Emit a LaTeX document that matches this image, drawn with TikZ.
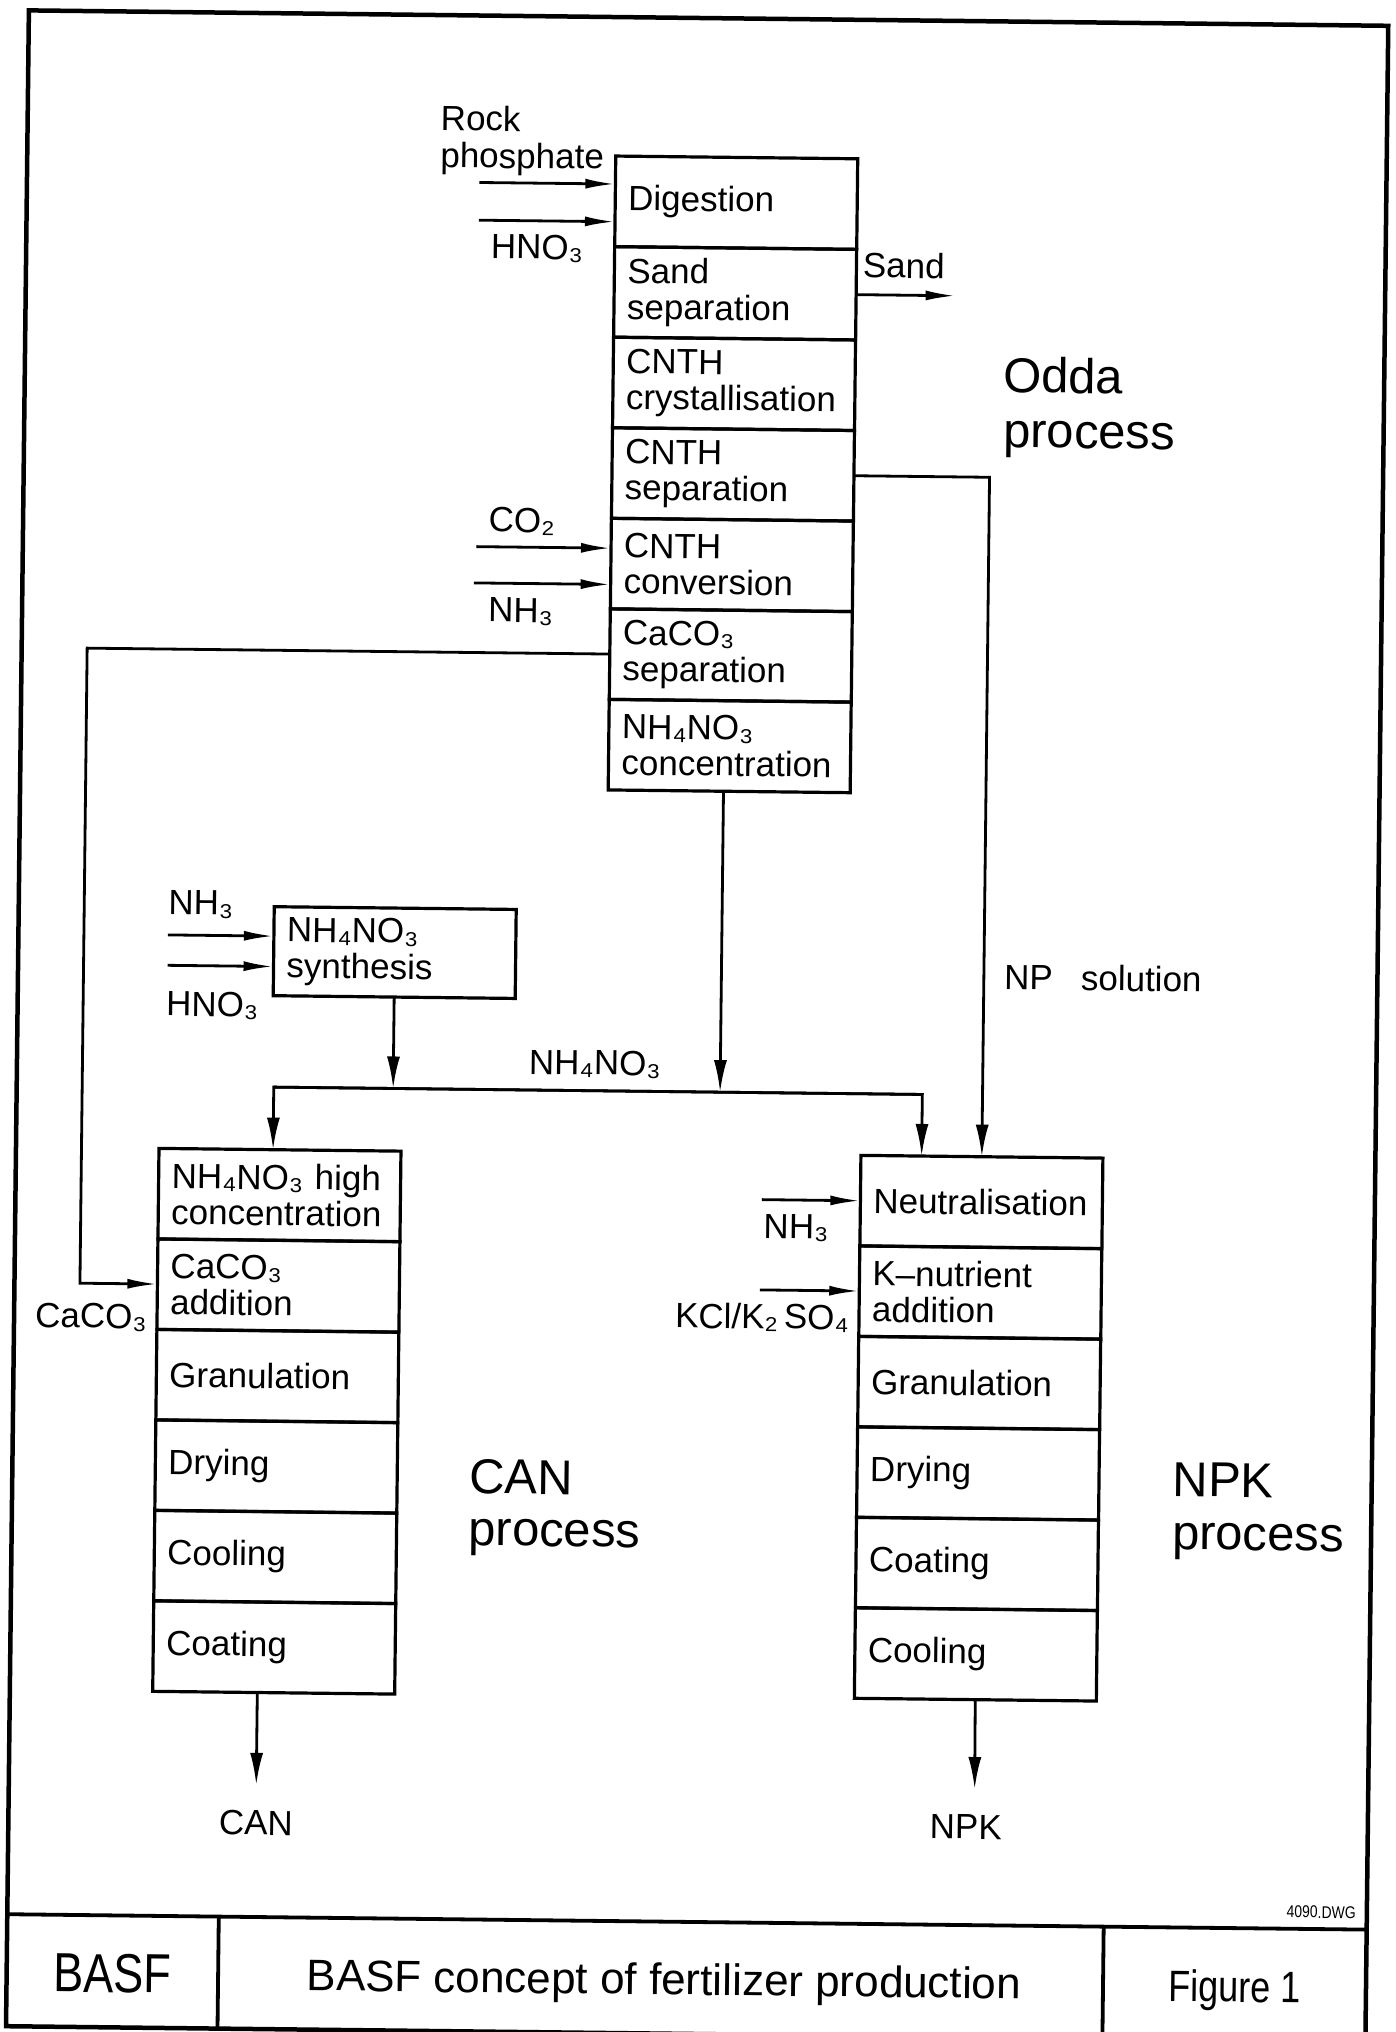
\documentclass[tikz,border=0pt]{standalone}
\usepackage{fontspec}
\setmainfont{Liberation Sans}
\newfontfamily\narrowfont[FakeStretch=0.82]{Liberation Sans}
\usepackage{tikz}
\usetikzlibrary{arrows.meta, positioning}

\begin{document}
\begin{tikzpicture}[x=1pt, y=-1pt,
  cell/.style={draw, line width=3.2pt, outer sep=0pt, minimum width=242pt,
    minimum height=90.6pt, text width=216pt, inner xsep=13pt, inner ysep=4pt,
    align=left, font=\fontsize{35}{36}\selectfont},
  lbl/.style={inner sep=0pt, font=\fontsize{35}{36}\selectfont},
  proclbl/.style={inner sep=0pt, font=\fontsize{49}{54}\selectfont},
  flow/.style={line width=2.8pt},
  flowarrow/.style={flow, -{Latex[length=32pt,width=13pt]}},
  inarrow/.style={flow, -{Latex[length=30pt,width=10pt]}}]

  \useasboundingbox[fill=white] (0,0) rectangle (1396,2032);

  \begin{scope}[rotate around={-0.65:(698,1016)}, transform shape]

  % Frame and title block
  \draw[line width=4.5pt] (17.5,18) rectangle (1377,2034);
  \draw[line width=3.8pt] (17.5,1922) -- (1377,1922);
  \draw[line width=3.8pt] (229,1922) -- (229,2034);
  \draw[line width=3.8pt] (1114,1922) -- (1114,2034);
  \node[inner sep=0pt, anchor=base, font=\narrowfont\fontsize{55}{55}\selectfont] (firm) at (123,1999) {BASF};
  \node[inner sep=0pt, anchor=base, font=\fontsize{44}{44}\selectfont] (title) at (675,1995) {BASF concept of fertilizer production};
  \node[inner sep=0pt, anchor=base, font=\narrowfont\fontsize{44}{44}\selectfont] (fignum) at (1246,1996) {Figure 1};
  \node[inner sep=0pt, anchor=base east, font=\narrowfont\fontsize{17}{17}\selectfont] (dwg) at (1366,1911) {4090.DWG};

  % Odda process
  \node[cell, anchor=north west] (odda1) at (606,157) {Digestion};
  \node[cell, below=0pt of odda1] (odda2) {Sand\\separation};
  \node[cell, below=0pt of odda2] (odda3) {CNTH\\crystallisation};
  \node[cell, below=0pt of odda3] (odda4) {CNTH\\separation};
  \node[cell, below=0pt of odda4] (odda5) {CNTH\\conversion};
  \node[cell, below=0pt of odda5] (odda6) {CaCO₃\\separation};
  \node[cell, below=0pt of odda6] (odda7) {NH₄NO₃\\concentration};
  \node[proclbl, anchor=base west] (oddalbl) at (996,389) {Odda};
  \node[proclbl, anchor=base west] (oddalbl2) at (996.6,444) {process};

  % Ammonium nitrate synthesis
  \node[cell, anchor=north west, minimum height=89pt] (synth) at (273,911.5) {NH₄NO₃\\synthesis};

  % CAN process
  \node[cell, anchor=north west] (can1) at (160.5,1154.5) {NH₄NO₃ high\\concentration};
  \node[cell, below=0pt of can1] (can2) {CaCO₃\\addition};
  \node[cell, below=0pt of can2] (can3) {Granulation};
  \node[cell, below=0pt of can3] (can4) {Drying};
  \node[cell, below=0pt of can4] (can5) {Cooling};
  \node[cell, below=0pt of can5] (can6) {Coating};
  \node[proclbl, anchor=base west] (canproc) at (474.4,1496) {CAN};
  \node[proclbl, anchor=base west] (canproc2) at (474.4,1548) {process};

  % NPK process
  \node[cell, anchor=north west] (npk1) at (862.5,1153.5) {Neutralisation};
  \node[cell, below=0pt of npk1] (npk2) {K\textendash nutrient\\addition};
  \node[cell, below=0pt of npk2] (npk3) {Granulation};
  \node[cell, below=0pt of npk3] (npk4) {Drying};
  \node[cell, below=0pt of npk4] (npk5) {Coating};
  \node[cell, below=0pt of npk5] (npk6) {Cooling};
  \node[proclbl, anchor=base west] (npkproc) at (1178,1491) {NPK};
  \node[proclbl, anchor=base west] (npkproc2) at (1178,1544) {process};

  % Feeds to digestion, sand out
  \coordinate (rockin) at (470,185);
  \coordinate (hno3in) at (470,222.7);
  \coordinate (sandout) at (947.5,292.9);
  \draw[inarrow] (rockin) -- (rockin -| odda1.west);
  \draw[inarrow] (hno3in) -- (hno3in -| odda1.west);
  \draw[inarrow] (odda2.east) -- (sandout);
  \node[lbl, anchor=base west] (rocklbl) at (430.5,133.4) {Rock};
  \node[lbl, anchor=base west] (phoslbl) at (430.5,170.3) {phosphate};
  \node[lbl, anchor=base west] (hno3lbl) at (482,261) {HNO₃};
  \node[lbl, anchor=base west] (sandlbl) at (854.3,275.7) {Sand};

  % Feeds to CNTH conversion
  \coordinate (co2in) at (471,549.2);
  \coordinate (nh3in) at (469,585.5);
  \draw[inarrow] (co2in) -- (co2in -| odda5.west);
  \draw[inarrow] (nh3in) -- (nh3in -| odda5.west);
  \node[lbl, anchor=base west] (co2lbl) at (483,534.3) {CO₂};
  \node[lbl, anchor=base west] (nh3lbl) at (483.4,624.2) {NH₃};

  % NP solution to NPK
  \draw[flowarrow] (odda4.east) -| (npk1.north);
  \node[lbl, anchor=base west] (nplbl) at (1003.7,986.2) {NP\hspace{0.8em}solution};

  % CaCO3 recycle to CAN
  \coordinate (caco3x) at (83,654);
  \draw[inarrow] (odda6.west) -- (odda6.west -| caco3x) |- (can2.west);
  \node[lbl, anchor=base west] (caco3lbl) at (38.5,1334.8) {CaCO₃};

  % Feeds to synthesis
  \coordinate (synnh3) at (167,941);
  \coordinate (synhno3) at (167,971.4);
  \draw[inarrow] (synnh3) -- (synnh3 -| synth.west);
  \draw[inarrow] (synhno3) -- (synhno3 -| synth.west);
  \node[lbl, anchor=base west] (synnh3lbl) at (167,920.6) {NH₃};
  \node[lbl, anchor=base west] (synhno3lbl) at (166,1022) {HNO₃};

  % NH4NO3 header
  \coordinate (busleft) at (274.6,1092);
  \coordinate (busmid) at (721,1092);
  \coordinate (busright) at (923.3,1092);
  \draw[flowarrow] (synth.south) -- (synth.south |- busleft);
  \draw[flowarrow] (odda7.south -| busmid) -- (busmid);
  \draw[flowarrow] (busright) -- (busleft) -- (busleft |- can1.north);
  \draw[flowarrow] (busleft) -- (busright) -- (busright |- npk1.north);
  \node[lbl, anchor=base west] (buslbl) at (529.4,1076) {NH₄NO₃};

  % Feeds to NPK
  \coordinate (npknh3) at (764,1199);
  \coordinate (npkkcl) at (763,1289.3);
  \draw[inarrow] (npknh3) -- (npknh3 -| npk1.west);
  \draw[inarrow] (npkkcl) -- (npkkcl -| npk2.west);
  \node[lbl, anchor=base east] (npknh3lbl) at (831,1237.6) {NH₃};
  \node[lbl, anchor=base east] (kcllbl) at (852.5,1328) {KCl/K₂\,SO₄};

  % Products
  \coordinate (canout) at (265,1790);
  \coordinate (npkout) at (983.5,1786);
  \draw[flowarrow] (can6.south -| canout) -- (canout);
  \draw[flowarrow] (npk6.south) -- (npkout);
  \node[lbl, anchor=base] (canlbl) at (265,1840) {CAN};
  \node[lbl, anchor=base] (npklbl) at (975,1836) {NPK};

  \end{scope}
\end{tikzpicture}
\end{document}
